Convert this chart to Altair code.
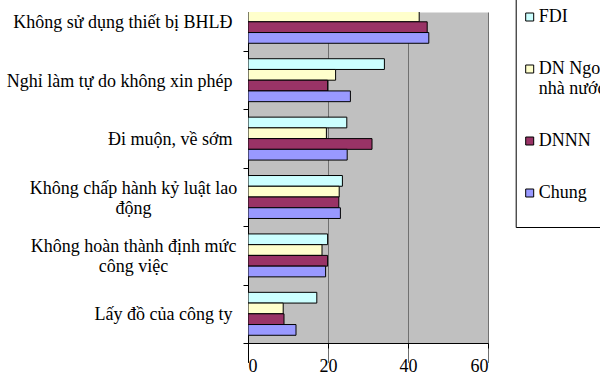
import altair as alt
import pandas as pd

categories = [
    "Không sử dụng thiết bị BHLĐ",
    "Nghỉ làm tự do không xin phép",
    "Đi muộn, về sớm",
    "Không chấp hành kỷ luật lao|động",
    "Không hoàn thành định mức|công việc",
    "Lấy đồ của công ty",
]
series = ["FDI", "DN Ngoài|nhà nước", "DNNN", "Chung"]
colors = ["#CCFFFF", "#FFFFCC", "#993366", "#9999FF"]

fdi = [47.8, 34.1, 24.7, 23.6, 19.9, 17.2]
ngoai = [42.8, 21.9, 19.6, 22.8, 18.5, 8.8]
dnnn = [44.8, 19.9, 31.0, 22.7, 19.9, 9.0]
chung = [45.2, 25.6, 24.8, 23.1, 19.4, 12.0]

x_ticks = [0, 20, 40, 60]

rows = []
for s, vals in zip(series, [fdi, ngoai, dnnn, chung]):
    for c, v in zip(categories, vals):
        rows.append({"cat": c, "series": s, "value": v})
df = pd.DataFrame(rows)

FONT = "Liberation Serif"
multi = "indexof(datum.label, '|') >= 0"

chart = alt.Chart(df).mark_bar(clip=True, stroke="black", strokeWidth=1).encode(
    x=alt.X(
        "value:Q",
        scale=alt.Scale(domain=[0, 60], nice=False),
        axis=alt.Axis(
            values=x_ticks, title=None, grid=True,
            gridColor={"condition": {"test": "datum.value === 0", "value": "black"}, "value": "#707070"},
            gridWidth=1, domainColor="black", tickColor="black", tickSize=5,
            labelFont=FONT, labelFontSize=18, labelColor="black", labelPadding=9,
        ),
    ),
    y=alt.Y(
        "cat:N", sort=categories,
        scale=alt.Scale(range=[-19.4, 331], paddingInner=0, paddingOuter=0),
        axis=alt.Axis(
            title=None, domain=False, tickBand="extent", tickColor="black", tickSize=5,
            labelFont=FONT, labelFontSize=18, labelColor="black", labelLimit=400,
            labelExpr="split(datum.label, '|')", labelLineHeight=20,
            labelAlign={"condition": {"test": multi, "value": "center"}, "value": "right"},
            labelPadding={"condition": {"test": multi, "value": 110}, "value": 11},
            labelOffset={"condition": {"test": multi, "value": -9}, "value": 1},
        ),
    ),
    yOffset=alt.YOffset("series:N", sort=series, scale=alt.Scale(paddingInner=0, paddingOuter=0.72)),
    color=alt.Color(
        "series:N", scale=alt.Scale(domain=series, range=colors),
        legend=alt.Legend(
            title=" ", titleFontSize=5, titlePadding=2,
            orient="none", legendX=267.7, legendY=-16, direction="vertical",
            symbolType="square", symbolSize=64, symbolStrokeColor="black", symbolStrokeWidth=1,
            labelFont=FONT, labelFontSize=18, labelColor="black", labelLimit=300,
            labelExpr="datum.label == 'Chung' ? ['Chung', ' '] : split(datum.label, '|')",
            labelOffset=0,
            strokeColor="black", fillColor="white", padding=5, rowPadding=34,
        ),
    ),
).properties(
    width=240, height=331,
    padding={"left": 248, "top": 12, "right": 112, "bottom": 33},
    autosize=alt.AutoSizeParams(type="none"),
    background="white",
).configure_view(fill="#C0C0C0", stroke="transparent")

chart.save("out.html", embed_options={"renderer": "svg", "actions": False})
